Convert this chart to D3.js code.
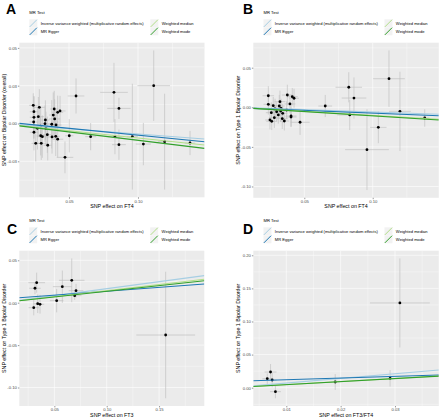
<!DOCTYPE html>
<html><head><meta charset="utf-8">
<script src="https://cdn.jsdelivr.net/npm/d3@7"></script>
<style>body{margin:0;background:#fff}svg{display:block}text{font-family:"Liberation Sans",Arial,sans-serif}</style>
</head><body><svg id="c" width="440" height="419"></svg>
<script>
// ---------------- data ----------------
const methods = ["Inverse variance weighted (multiplicative random effects)", "MR Egger", "Weighted median", "Weighted mode"];
const methodColors = ["#a6cee3", "#1f78b4", "#b2df8a", "#33a02c"];

// Panel A: FT4 -> Bipolar Disorder (overall)
const aX = [0.0241,0.0285,0.0246,0.0393,0.0418,0.0435,0.0246,0.0278,0.0386,0.0244,0.0326,0.0329,0.0375,0.0295,0.0406,0.0271,0.0333,0.0246,0.0295,0.0307,0.0343,0.0377,0.0404,0.0418,0.0259,0.0299,0.0346,0.0396,
            0.0502,0.0551,0.0471,0.0657,0.0826,0.0833,0.0862,0.0862,0.0959,0.1039,0.1114,0.1193,0.1377];
const aY = [0.0120,0.0107,0.0078,0.0096,0.0074,0.0083,0.0041,0.0045,0.0056,0.0010,-0.0001,0.0023,-0.0005,-0.0017,-0.0010,-0.0032,-0.0032,-0.0058,-0.0081,-0.0087,-0.0074,-0.0089,-0.0085,-0.0104,-0.0131,-0.0131,-0.0144,0.0030,
            -0.0081,0.0182,-0.0224,-0.0087,0.0206,-0.0087,0.0100,-0.0140,-0.0087,-0.0136,0.0250,-0.0120,-0.0129];
const aSeX = [0.003,0.004,0.003,0.003,0.004,0.004,0.003,0.004,0.003,0.003,0.004,0.003,0.004,0.003,0.004,0.003,0.004,0.003,0.003,0.004,0.003,0.004,0.003,0.004,0.003,0.004,0.003,0.004,
              0.003,0.006,0.006,0.004,0.010,0.005,0.0085,0.005,0.004,0.0055,0.0118,0.005,0.0038];
const aSeY = [0.008,0.012,0.010,0.012,0.011,0.010,0.014,0.013,0.015,0.011,0.012,0.013,0.016,0.012,0.010,0.014,0.011,0.012,0.013,0.014,0.012,0.011,0.013,0.012,0.012,0.011,0.010,0.013,
              0.011,0.0116,0.0105,0.009,0.0195,0.0116,0.007,0.010,0.035,0.014,0.0233,0.0317,0.008];
const aIntercept = [0, 0.00138, 0, 0];
const aSlope = [-0.0694, -0.0905, -0.0962, -0.111];

// Panel B: FT4 -> Type 1 Bipolar Disorder
const bX = [0.0237,0.0376,0.0412,0.0425,0.0322,0.0395,0.0237,0.0273,0.0317,0.0330,0.0286,0.0371,0.0298,0.0327,0.0259,0.0342,0.0310,0.0281,0.0249,0.0262,0.0339,0.0354,0.0403,0.0403,0.0469,
            0.0653,0.0825,0.0832,0.0863,0.0958,0.1041,0.1119,0.1199,0.1380];
const bY = [0.0146,0.0155,0.0134,0.0114,0.0071,0.0042,0.0038,0.0020,0.0016,-0.0013,-0.0021,-0.0034,-0.0056,-0.0047,-0.0068,-0.0076,-0.0097,-0.0131,-0.0160,-0.0177,-0.0144,-0.0173,-0.0110,-0.0123,-0.0189,
            0.0016,0.0253,-0.0097,0.0117,-0.0535,-0.0253,0.0361,-0.0051,-0.0135];
const bSeX = [0.0042,0.004,0.004,0.0035,0.004,0.004,0.0035,0.004,0.004,0.0035,0.004,0.004,0.0035,0.004,0.004,0.0035,0.004,0.004,0.0035,0.004,0.004,0.0035,0.004,0.004,0.007,
              0.005,0.0097,0.009,0.009,0.016,0.006,0.0116,0.008,0.0035];
const bSeY = [0.012,0.013,0.011,0.012,0.014,0.012,0.013,0.011,0.014,0.012,0.013,0.011,0.012,0.014,0.013,0.012,0.011,0.013,0.012,0.011,0.013,0.012,0.014,0.012,0.016,
              0.014,0.019,0.019,0.026,0.051,0.020,0.0357,0.050,0.011];
const bIntercept = [0, -0.00044, 0, 0];
const bSlope = [-0.0597, -0.0688, -0.1026, -0.108];

// Panel C: FT3 -> Type 1 Bipolar Disorder
const cX = [0.0331,0.0315,0.0666,0.0576,0.0707,0.0694,0.0522,0.0341,0.0363,0.0303,0.1563];
const cY = [0.0236,0.0170,0.0264,0.0189,0.0142,0.0083,0.0024,-0.0012,-0.0019,-0.0059,-0.0381];
const cSeX = [0.008,0.0055,0.0122,0.009,0.007,0.0065,0.0065,0.004,0.004,0.0049,0.0281];
const cSeY = [0.0118,0.007,0.0258,0.019,0.008,0.005,0.0138,0.011,0.011,0.009,0.0746];
const cIntercept = [0, 0.0043, 0, 0];
const cSlope = [0.165, 0.092, 0.143, 0.134];

// Panel D: FT3/FT4 -> Type 1 Bipolar Disorder
const dX = [0.0071,0.0065,0.0074,0.0080,0.0190,0.0291,0.0309];
const dY = [0.0237,0.0136,0.0116,-0.0060,0.0086,0.0142,0.1280];
const dSeX = [0.0011,0.0009,0.0008,0.0010,0.0003,0.0003,0.0055];
const dSeY = [0.012,0.008,0.011,0.0099,0.012,0.0125,0.0672];
const dIntercept = [0, 0.0096, 0, 0];
const dSlope = [0.70, 0.252, 0.465, 0.46];

// ticks
const aXTicks = [0.05, 0.10], aXLabels = ["0.05", "0.10"];
const aYTicks = [-0.025, 0, 0.025, 0.05], aYLabels = ["-0.03", "0.00", "0.03", "0.05"];
const bXTicks = [0.05, 0.10], bXLabels = ["0.05", "0.10"];
const bYTicks = [-0.10, -0.05, 0, 0.05], bYLabels = ["-0.10", "-0.05", "0.00", "0.05"];
const cXTicks = [0.05, 0.10, 0.15], cXLabels = ["0.05", "0.10", "0.15"];
const cYTicks = [-0.10, -0.05, 0, 0.05], cYLabels = ["-0.10", "-0.05", "0.00", "0.05"];
const dXTicks = [0.01, 0.02, 0.03], dXLabels = ["0.01", "0.02", "0.03"];
const dYTicks = [0, 0.05, 0.10, 0.15, 0.20], dYLabels = ["0.00", "0.05", "0.10", "0.15", "0.20"];

const panelLetters = ["A", "B", "C", "D"];
const xTitles = ["SNP effect on FT4", "SNP effect on FT4", "SNP effect on FT3", "SNP effect on FT3/FT4"];
const yTitles = ["SNP effect on Bipolar Disorder (overall)", "SNP effect on Type 1 Bipolar Disorder", "SNP effect on Type 1 Bipolar Disorder", "SNP effect on Type 1 Bipolar Disorder"];
const legendTitle = "MR Test";

// ---------------- layout ----------------
const panels = [
  {x:aX,y:aY,sx:aSeX,sy:aSeY,a:aIntercept,b:aSlope,xt:aXTicks,xl:aXLabels,yt:aYTicks,yl:aYLabels,
   L:19.3,R:204.5,T:42.7,B:197.3,xd:[0.01399,0.1482],yd:[-0.04881,0.05344],letter:[6,13.6]},
  {x:bX,y:bY,sx:bSeX,sy:bSeY,a:bIntercept,b:bSlope,xt:bXTicks,xl:bXLabels,yt:bYTicks,yl:bYLabels,
   L:253.3,R:438.8,T:42.7,B:197.8,xd:[0.01272,0.1483],yd:[-0.1143,0.08157],letter:[243,13.6]},
  {x:cX,y:cY,sx:cSeX,sy:cSeY,a:cIntercept,b:cSlope,xt:cXTicks,xl:cXLabels,yt:cYTicks,yl:cYLabels,
   L:19.3,R:204.3,T:250.7,B:406,xd:[0.01652,0.1932],yd:[-0.1218,0.0613],letter:[7,234]},
  {x:dX,y:dY,sx:dSeX,sy:dSeY,a:dIntercept,b:dSlope,xt:dXTicks,xl:dXLabels,yt:dYTicks,yl:dYLabels,
   L:253.3,R:438.8,T:250.7,B:406,xd:[0.003928,0.03806],yd:[-0.02764,0.2069],letter:[243,234]}
];

const svg = d3.select("#c");
svg.append("rect").attr("width",440).attr("height",419).attr("fill","#fff");

panels.forEach((p, i) => {
  const g = svg.append("g");
  const xs = d3.scaleLinear().domain(p.xd).range([p.L, p.R]);
  const ys = d3.scaleLinear().domain(p.yd).range([p.B, p.T]);
  const clipId = "clip" + i;
  svg.append("clipPath").attr("id", clipId).append("rect")
    .attr("x", p.L).attr("y", p.T).attr("width", p.R - p.L).attr("height", p.B - p.T);

  g.append("rect").attr("x", p.L).attr("y", p.T).attr("width", p.R - p.L).attr("height", p.B - p.T).attr("fill", "#EBEBEB");

  const step = (arr) => arr[1] - arr[0];
  const minors = (arr, dom) => {
    const s = step(arr), out = [];
    for (let v = arr[0] - s * 5 + s / 2; v < dom[1]; v += s) if (v > dom[0]) out.push(v);
    return out;
  };
  const grid = g.append("g").attr("clip-path", `url(#${clipId})`);
  minors(p.xt, p.xd).forEach(v => grid.append("line").attr("x1", xs(v)).attr("x2", xs(v)).attr("y1", p.T).attr("y2", p.B).attr("stroke", "#fff").attr("stroke-width", 0.35));
  minors(p.yt, p.yd).forEach(v => grid.append("line").attr("y1", ys(v)).attr("y2", ys(v)).attr("x1", p.L).attr("x2", p.R).attr("stroke", "#fff").attr("stroke-width", 0.35));
  p.xt.forEach(v => grid.append("line").attr("x1", xs(v)).attr("x2", xs(v)).attr("y1", p.T).attr("y2", p.B).attr("stroke", "#fff").attr("stroke-width", 0.6));
  p.yt.forEach(v => grid.append("line").attr("y1", ys(v)).attr("y2", ys(v)).attr("x1", p.L).attr("x2", p.R).attr("stroke", "#fff").attr("stroke-width", 0.6));

  const data = p.x.map((xv, k) => ({x: xv, y: p.y[k], sx: p.sx[k], sy: p.sy[k]}));
  const marks = g.append("g").attr("clip-path", `url(#${clipId})`);
  marks.selectAll(".ev").data(data).join("line")
    .attr("x1", d => xs(d.x)).attr("x2", d => xs(d.x))
    .attr("y1", d => ys(d.y - d.sy)).attr("y2", d => ys(d.y + d.sy))
    .attr("stroke", "#BEBEBE").attr("stroke-width", 0.65);
  marks.selectAll(".eh").data(data).join("line")
    .attr("y1", d => ys(d.y)).attr("y2", d => ys(d.y))
    .attr("x1", d => xs(d.x - d.sx)).attr("x2", d => xs(d.x + d.sx))
    .attr("stroke", "#BEBEBE").attr("stroke-width", 0.65);
  marks.selectAll("circle").data(data).join("circle")
    .attr("cx", d => xs(d.x)).attr("cy", d => ys(d.y)).attr("r", 1.4).attr("fill", "#000");
  methods.forEach((m, k) => {
    const f = xv => p.a[k] + p.b[k] * xv;
    marks.append("line")
      .attr("x1", xs(p.xd[0])).attr("y1", ys(f(p.xd[0])))
      .attr("x2", xs(p.xd[1])).attr("y2", ys(f(p.xd[1])))
      .attr("stroke", methodColors[k]).attr("stroke-width", 1.1);
  });

  const ax = g.append("g").attr("transform", `translate(0,${p.B})`)
    .call(d3.axisBottom(xs).tickValues(p.xt).tickFormat((d, k) => p.xl[k]).tickSize(1.4).tickPadding(1));
  const ay = g.append("g").attr("transform", `translate(${p.L},0)`)
    .call(d3.axisLeft(ys).tickValues(p.yt).tickFormat((d, k) => p.yl[k]).tickSize(1.4).tickPadding(1));
  [ax, ay].forEach(a => {
    a.select(".domain").remove();
    a.selectAll(".tick line").attr("stroke", "#333").attr("stroke-width", 0.5);
    a.selectAll(".tick text").attr("fill", "#4D4D4D").style("font-size", "4.2px").style("font-family", '"Liberation Sans",Arial,sans-serif');
  });

  g.append("text").attr("x", (p.L + p.R) / 2).attr("y", p.B + 10.6).attr("text-anchor", "middle")
    .style("font-size", "5.3px").attr("fill", "#000").text(xTitles[i]);
  g.append("text").attr("transform", `translate(${p.L - 13.2},${(p.T + p.B) / 2}) rotate(-90)`)
    .attr("text-anchor", "middle").style("font-size", "5.3px").attr("fill", "#000").text(yTitles[i]);

  g.append("text").attr("x", p.letter[0]).attr("y", p.letter[1]).style("font-size", "14px").style("font-weight", "bold").text(panelLetters[i]);

  const cx = (p.L + p.R) / 2;
  const lx = cx - 82.6, ly = p.T - 23.4;
  g.append("text").attr("x", lx).attr("y", p.T - 28.4).style("font-size", "4.2px").attr("fill", "#000").text(legendTitle);
  methods.forEach((m, k) => {
    const col = Math.floor(k / 2), row = k % 2;
    const kx = lx + col * 121, ky = ly + row * 8;
    g.append("rect").attr("x", kx).attr("y", ky).attr("width", 8).attr("height", 8).attr("fill", "#F2F2F2");
    g.append("line").attr("x1", kx + 0.4).attr("y1", ky + 7.6).attr("x2", kx + 7.6).attr("y2", ky + 0.4)
      .attr("stroke", methodColors[k]).attr("stroke-width", 1.0);
    g.append("text").attr("x", kx + 11.4).attr("y", ky + 4).attr("dominant-baseline", "central")
      .style("font-size", "4.1px").attr("fill", "#000").text(m);
  });
});
</script></body></html>
